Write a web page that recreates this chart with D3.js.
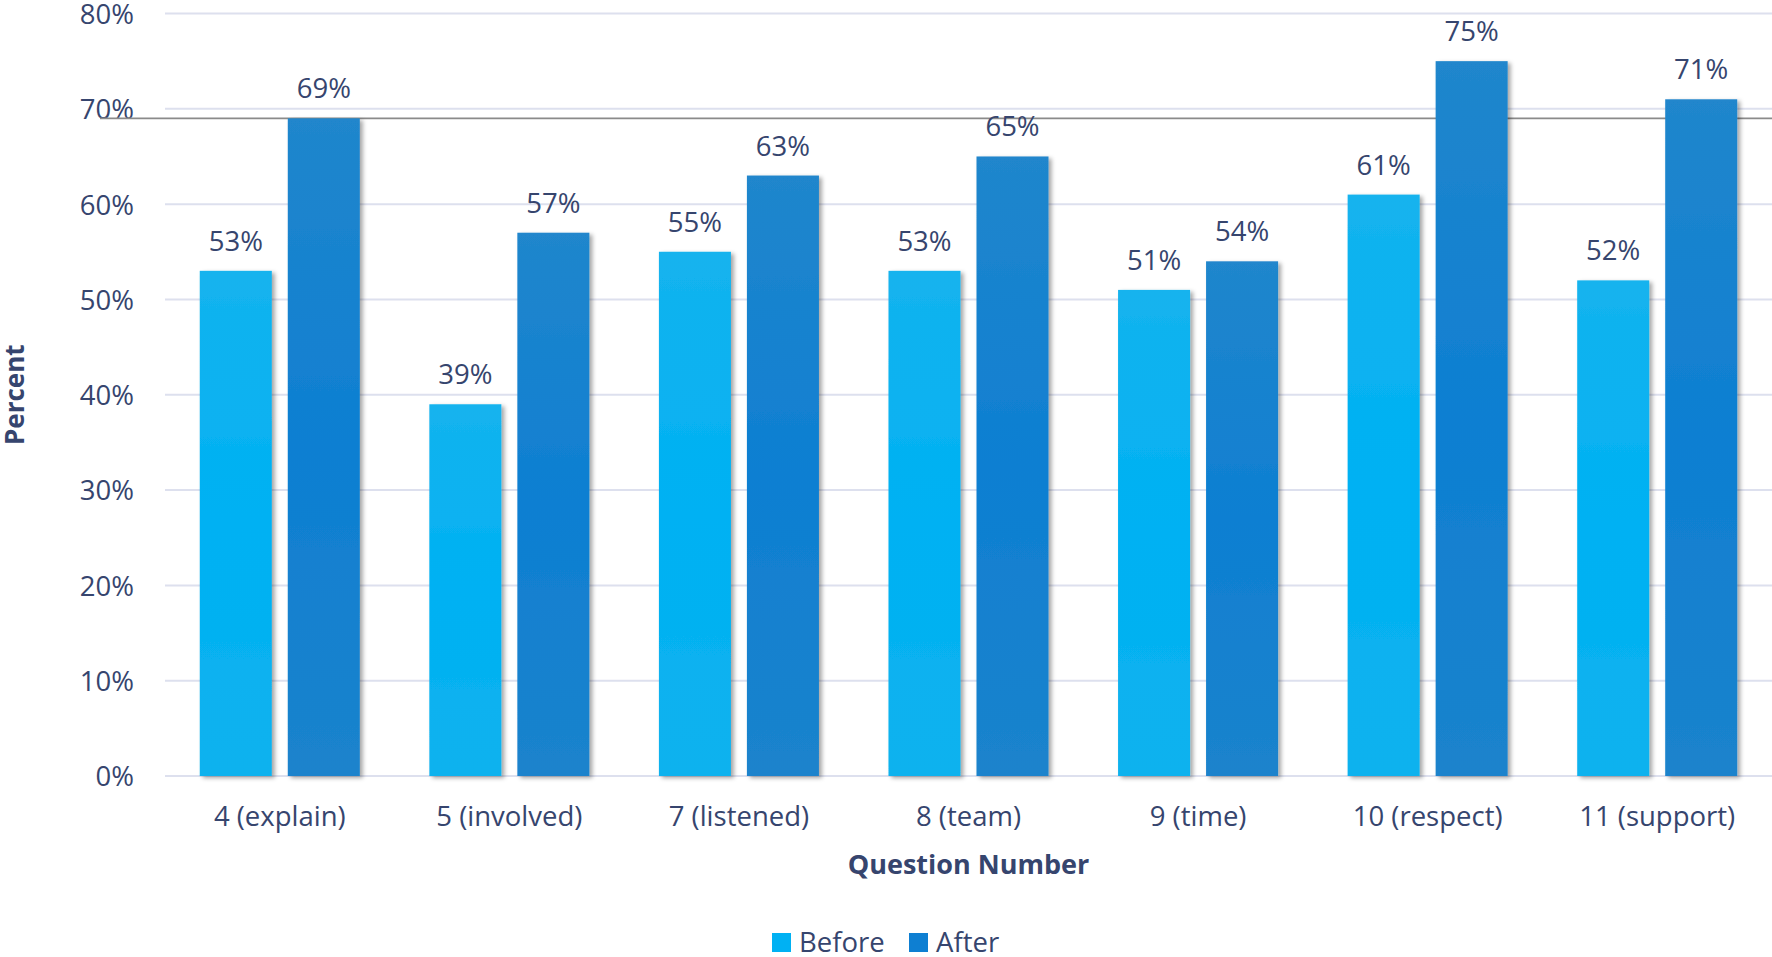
<!DOCTYPE html>
<html>
<head>
<meta charset="utf-8">
<script src="https://cdn.jsdelivr.net/npm/d3@7"></script>
<style>
  html, body { margin: 0; padding: 0; background: #ffffff; }
  svg { display: block; }
  text { font-family: "Open Sans", "Noto Sans", sans-serif; fill: #36456e; }
</style>
</head>
<body>
<svg id="chart" width="1772" height="957"></svg>
<script>
// Survey results per question, before and after (percent)
const categories = ["4 (explain)", "5 (involved)", "7 (listened)", "8 (team)", "9 (time)", "10 (respect)", "11 (support)"];
const seriesNames = ["Before", "After"];
const beforeValues = [53, 39, 55, 53, 51, 61, 52];
const afterValues = [69, 57, 63, 65, 54, 75, 71];
const yTicks = [0, 10, 20, 30, 40, 50, 60, 70, 80];
const referenceValue = 69;

const W = 1772, H = 957;
const margin = { left: 165, right: 0, top: 13.5, bottom: 181 };

const svg = d3.select("#chart");
const defs = svg.append("defs");

// Vertical gradients for each series
function gradient(id, stops) {
  const g = defs.append("linearGradient").attr("id", id)
    .attr("x1", 0).attr("y1", 0).attr("x2", 0).attr("y2", 1);
  stops.forEach(([o, c]) => g.append("stop").attr("offset", o).attr("stop-color", c));
}
gradient("gBefore", [[0, "#14b3ee"], [0.5, "#00b1f3"], [1, "#0db2ee"]]);
gradient("gAfter", [[0, "#2086cc"], [0.5, "#0e7fd2"], [1, "#1b83cc"]]);

const shadow = defs.append("filter").attr("id", "barShadow")
  .attr("x", "-20%").attr("y", "-5%").attr("width", "140%").attr("height", "110%");
shadow.append("feDropShadow").attr("dx", 3).attr("dy", 2).attr("stdDeviation", 2)
  .attr("flood-color", "#000").attr("flood-opacity", 0.35);

const x0 = d3.scaleBand().domain(categories)
  .range([margin.left, W - margin.right]).paddingInner(0).paddingOuter(0);
const barW = x0.bandwidth() * 0.3137;
const barGap = barW * 0.222;

const y = d3.scaleLinear().domain([0, 80]).range([H - margin.bottom, margin.top]);

// Gridlines
svg.append("g").selectAll("line").data(yTicks).join("line")
  .attr("x1", margin.left).attr("x2", W - margin.right)
  .attr("y1", d => y(d)).attr("y2", d => y(d))
  .attr("stroke", "#dde0ee").attr("stroke-width", 2);

// Y axis tick labels
const yAxis = d3.axisLeft(y).tickValues(yTicks).tickFormat(d => d + "%").tickSize(0).tickPadding(0);
const yg = svg.append("g").attr("transform", `translate(134,0)`).call(yAxis);
yg.select(".domain").remove();
yg.selectAll("text").attr("font-size", 27.5).attr("dy", "0.36em")
  .style("font-family", '"Open Sans", sans-serif').attr("fill", "#36456e");

// Reference line
svg.append("line")
  .attr("x1", 100).attr("x2", W)
  .attr("y1", y(referenceValue)).attr("y2", y(referenceValue))
  .attr("stroke", "#8a8a8a").attr("stroke-width", 1.6);

const rows = categories.map((c, i) => ({ cat: c, values: [beforeValues[i], afterValues[i]] }));
const fills = ["url(#gBefore)", "url(#gAfter)"];

function barX(cat, k) {
  const center = x0(cat) + x0.bandwidth() / 2;
  return k === 0 ? center - barGap / 2 - barW : center + barGap / 2;
}

const groups = svg.append("g").selectAll("g").data(rows).join("g");
groups.selectAll("rect").data(d => d.values.map((v, k) => ({ cat: d.cat, v, k }))).join("rect")
  .attr("x", d => barX(d.cat, d.k))
  .attr("y", d => y(d.v))
  .attr("width", barW)
  .attr("height", d => y(0) - y(d.v))
  .attr("fill", d => fills[d.k])
  .attr("filter", "url(#barShadow)");

groups.selectAll("text.val").data(d => d.values.map((v, k) => ({ cat: d.cat, v, k }))).join("text")
  .attr("class", "val")
  .attr("x", d => barX(d.cat, d.k) + barW / 2)
  .attr("y", d => y(d.v) - 20)
  .attr("text-anchor", "middle")
  .attr("font-size", 27.5)
  .text(d => d.v + "%");

// X axis category labels
const xAxis = d3.axisBottom(x0).tickSize(0).tickPadding(0);
const xg = svg.append("g").attr("transform", `translate(0,${y(0)})`).call(xAxis);
xg.select(".domain").remove();
xg.selectAll("text").attr("font-size", 27.5).attr("dy", 0).attr("y", 50)
  .style("font-family", '"Open Sans", sans-serif').attr("fill", "#36456e");

// Axis titles
svg.append("text")
  .attr("x", (margin.left + W - margin.right) / 2).attr("y", 874)
  .attr("text-anchor", "middle").attr("font-size", 27).attr("font-weight", "bold")
  .text("Question Number");

svg.append("text")
  .attr("transform", `translate(24,${(y(0) + y(80)) / 2}) rotate(-90)`)
  .attr("text-anchor", "middle").attr("font-size", 26).attr("font-weight", "bold")
  .text("Percent");

// Legend
const legendColors = ["#00b1f3", "#0e7fd2"];
const legendX = [772, 909];
const legend = svg.append("g").selectAll("g").data(seriesNames).join("g")
  .attr("transform", (d, i) => `translate(${legendX[i]},933)`);
legend.append("rect").attr("width", 19).attr("height", 19).attr("fill", (d, i) => legendColors[i]);
legend.append("text").attr("x", 27).attr("y", 18.5).attr("font-size", 27.5).text(d => d);
</script>
</body>
</html>
